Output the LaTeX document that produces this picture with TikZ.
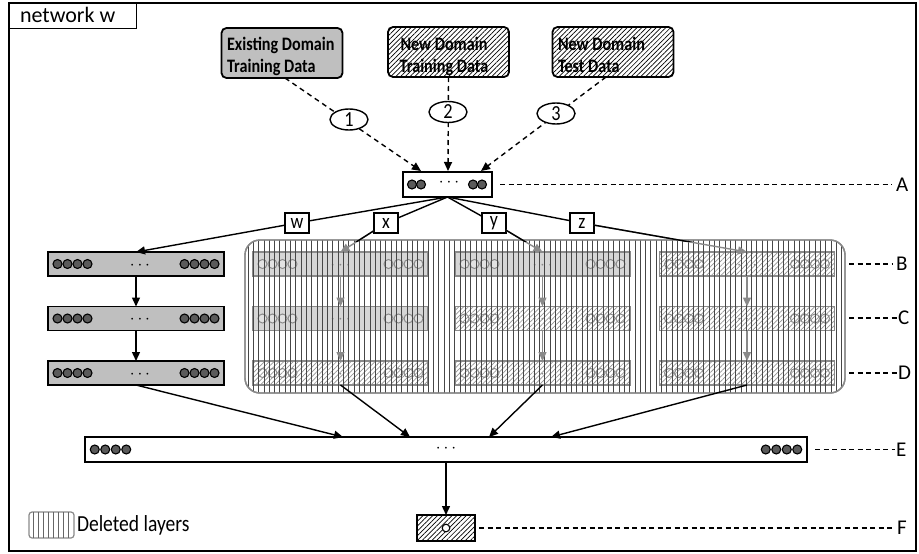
\documentclass[tikz,border=0pt]{standalone}
\usepackage{fontspec}
\setmainfont{Carlito}
\newfontfamily\tallfont[FakeStretch=0.85]{Carlito}
\usetikzlibrary{arrows.meta,patterns.meta,shapes.geometric,calc}

\definecolor{boxgray}{HTML}{BFBFBF}
\definecolor{unitgray}{HTML}{5A5A5A}
\definecolor{fadeline}{HTML}{8A8A8A}
\definecolor{fadefill}{HTML}{D6D6D6}

\tikzset{
  every node/.style={inner sep=0pt, outer sep=0pt},
  hatch/.style={pattern={Lines[angle=45,distance=3.4pt,line width=0.7pt]}},
  srcbox/.style={draw, line width=1.8pt, rounded corners=5pt,
    minimum width=121pt, minimum height=50pt},
  srctext/.style={anchor=north west, align=left,
    font=\tallfont\fontsize{19}{22}\selectfont\bfseries},
  layer/.style={draw, line width=1.8pt, fill=boxgray,
    minimum width=176pt, minimum height=24pt},
  ghost/.style={draw=fadeline, line width=1.4pt, fill=fadefill,
    minimum width=175pt, minimum height=24pt},
  ghosthatch/.style={ghost, fill=white, hatch, pattern color=fadeline!90},
  unit/.style={draw=black, line width=1.1pt, fill=unitgray},
  ghostunit/.style={draw=fadeline, line width=1pt},
  numoval/.style={ellipse, draw, line width=1.4pt, fill=white,
    minimum width=38pt, minimum height=21pt,
    font=\tallfont\fontsize{21.5}{21.5}\selectfont},
  tag/.style={draw, line width=1.4pt, fill=white, minimum width=24pt,
    minimum height=20pt, font=\tallfont\fontsize{21}{21}\selectfont},
  sidelabel/.style={anchor=west, font=\fontsize{21}{21}\selectfont},
  feed/.style={dash pattern=on 5pt off 4pt, line width=1.4pt,
    -{Triangle[length=9pt,width=8pt]}},
  levelline/.style={dash pattern=on 5pt off 3.5pt, line width=1.2pt},
  conn/.style={line width=1.4pt, -{Triangle[length=9pt,width=8pt]}},
  fadeconn/.style={line width=1.4pt, draw=fadeline,
    -{Triangle[length=9pt,width=8pt,fill=fadeline]}},
  dots/.style={font=\fontsize{17}{17}\selectfont},
}

% units drawn at both ends of a layer: node, count, style, pitch
\newcommand\unitrow[4]{%
  \foreach \k in {1,...,#2}{%
    \draw[#3] ([xshift={(\k-0.5)*#4+4.5}]#1.west) circle (4.5pt);
    \draw[#3] ([xshift={-((\k-0.5)*#4+4.5)}]#1.east) circle (4.5pt);
  }}

\begin{document}
\begin{tikzpicture}[x=1pt,y=-1pt]
\useasboundingbox (0,0) rectangle (919,554);

% outer frame and its title tab
\draw[line width=1.8pt] (9,3) rectangle (916,551);
\node[draw, line width=1pt, minimum width=127pt, minimum height=25pt,
  anchor=north west] (title) at (9,3) {};
\node[anchor=base west, font=\fontsize{22}{22}\selectfont] (titletext)
  at (20,23) {network w};

% data sources
\node[srcbox, fill=boxgray] (s1) at (282,53) {};
\node[srcbox, hatch] (s2) at (448.5,52) {};
\node[srcbox, hatch] (s3) at (613,52) {};
\node[srctext] (t1) at (227,37) {Existing Domain\\Training Data};
\node[srctext, align=center, anchor=north] (t2) at (444,37)
  {New Domain\\Training Data};
\node[srctext] (t3) at (558,37) {New Domain\\Test Data};

% input layer A
\node[draw, line width=1.8pt, fill=white, minimum width=89pt,
  minimum height=25pt] (A) at (447.5,184.5) {};
\foreach \dx in {9,18}{
  \draw[unit] ([xshift=\dx]A.west) circle (4.5pt);
  \draw[unit] ([xshift=-\dx-1]A.east) circle (4.5pt);
}
\node[dots] (Ad) at (449,183) {$\cdots$};

% feeding the input layer
\coordinate (a1) at (421,171);
\coordinate (a2) at (448,171);
\coordinate (a3) at (481,171);
\coordinate (s1o) at (285,78);
\coordinate (s3o) at (606,77);
\draw[feed] (s1o) -- (a1);
\draw[feed] (s2.south) -- (a2);
\draw[feed] (s3o) -- (a3);
\node[numoval] (o1) at (349,119.5) {1};
\node[numoval] (o2) at (448,112) {2};
\node[numoval] (o3) at (556,113.5) {3};

% deleted region: rounded panel with faded layers
\node[draw=fadeline, line width=1.4pt, rounded corners=15pt, fill=white,
  minimum width=600pt, minimum height=153pt] (del) at (545,316.5) {};

\node[ghost] (g11) at (340.5,264) {};
\node[ghost] (g12) at (340.5,318.5) {};
\node[ghosthatch] (g13) at (340.5,373) {};
\node[ghost] (g21) at (542.5,264) {};
\node[ghosthatch] (g22) at (542.5,318.5) {};
\node[ghosthatch] (g23) at (542.5,373) {};
\node[ghosthatch] (g31) at (747,264) {};
\node[ghosthatch] (g32) at (747,318.5) {};
\node[ghosthatch] (g33) at (747,373) {};
\foreach \g in {g11,g12,g21}{
  \unitrow{\g}{4}{ghostunit, fill=fadefill!70}{10}
}
\foreach \g in {g13,g22,g23,g31,g32,g33}{
  \unitrow{\g}{4}{ghostunit}{10}
}
\foreach \g in {g11,g12,g13,g21,g22,g23,g31,g32,g33}{
  \node[dots, text=fadeline] (\g d) at ([yshift=-1.5]\g.center) {$\cdots$};
}

% vertical stripes marking the deleted layers
\begin{scope}
  \clip[rounded corners=15pt] (245,240) rectangle (845,393);
  \foreach \i in {0,...,113}
    \draw[black!72, line width=0.65pt] (248+\i*5.3,240) -- ++(0,153);
\end{scope}
\draw[draw=fadeline, line width=1.4pt, rounded corners=15pt]
  (del.north west) rectangle (del.south east);

\draw[fadeconn] (g11.south) -- (g12.north);
\draw[fadeconn] (g12.south) -- (g13.north);
\draw[fadeconn] (g21.south) -- (g22.north);
\draw[fadeconn] (g22.south) -- (g23.north);
\draw[fadeconn] (g31.south) -- (g32.north);
\draw[fadeconn] (g32.south) -- (g33.north);

% kept layers of branch w
\node[layer] (L1) at (136,264) {};
\node[layer] (L2) at (136,318.5) {};
\node[layer] (L3) at (136,373) {};
\foreach \g in {L1,L2,L3}{
  \unitrow{\g}{4}{unit}{10}
  \node[dots] (\g d) at ([xshift=4,yshift=-1.5]\g.center) {$\cdots$};
}
\draw[conn] (L1) -- (L2);
\draw[conn] (L2) -- (L3);

% branch tags
\node[tag] (w) at (297,223) {w};
\node[tag] (x) at (386,223) {x};
\node[tag] (y) at (494,223) {y};
\node[tag] (z) at (582,223) {z};
\foreach \t in {w,x,y,z}
  \draw[line width=1.4pt] (A.south) -- (\t);
\draw[conn] (w) -- (L1.north);
\draw[fadeconn] (x) -- (g11.north);
\draw[fadeconn] (y) -- (g21.north);
\draw[fadeconn] (z) -- (g31.north);
\begin{scope}
  \clip (0,0) rectangle (919,241);
  \draw[line width=1.4pt] (x) -- (g11.north);
  \draw[line width=1.4pt] (y) -- (g21.north);
  \draw[line width=1.4pt] (z) -- (g31.north);
\end{scope}

% merged layer E
\node[draw, line width=1.8pt, fill=white, minimum width=722pt,
  minimum height=25pt] (E) at (446,449.5) {};
\unitrow{E}{4}{unit}{10.5}
\node[dots] (Ed) at (446,449) {$\cdots$};
\coordinate (e1) at (343,437);
\coordinate (e2) at (410,437);
\coordinate (e3) at (489,437);
\coordinate (e4) at (551,437);
\draw[conn] (L3.south) -- (e1);
\draw[conn] (g13.south) -- (e2);
\draw[conn] (g23.south) -- (e3);
\draw[conn] (g33.south) -- (e4);

% output F
\node[draw, line width=1.8pt, fill=white, hatch, minimum width=58pt,
  minimum height=26pt] (F) at (446,528) {};
\draw[line width=1.1pt, fill=white] (F.center) circle (3.8pt);
\draw[conn] (E.south) -- (F.north);

% level labels
\node[sidelabel] (lA) at (896,184.5) {A};
\node[sidelabel] (lB) at (896,264) {B};
\node[sidelabel] (lC) at (898,318) {C};
\node[sidelabel] (lD) at (898,373) {D};
\node[sidelabel] (lE) at (896,449.5) {E};
\node[sidelabel] (lF) at (897,528) {F};
\draw[levelline] ([xshift=8]A.east) -- ([xshift=-4]lA.west);
\draw[levelline] ([xshift=4]del.east |- lB) -- ([xshift=-3]lB.west);
\draw[levelline] ([xshift=4]del.east |- lC) -- ([xshift=-1]lC.west);
\draw[levelline] ([xshift=4]del.east |- lD) -- ([xshift=-1]lD.west);
\draw[levelline] ([xshift=8]E.east) -- ([xshift=-1]lE.west);
\draw[levelline] ([xshift=4]F.east) -- ([xshift=-3]lF.west);

% legend
\node[draw=fadeline, line width=1.2pt, rounded corners=3pt,
  minimum width=45pt, minimum height=26pt] (key) at (51.5,525) {};
\begin{scope}
  \clip[rounded corners=3pt] (key.north west) rectangle (key.south east);
  \foreach \i in {0,...,7}
    \draw[black!60, line width=0.7pt] (33+\i*5,512) -- ++(0,26);
\end{scope}
\node[anchor=west, font=\tallfont\fontsize{23}{23}\selectfont] (keytext)
  at (77,525) {Deleted layers};
\end{tikzpicture}
\end{document}
